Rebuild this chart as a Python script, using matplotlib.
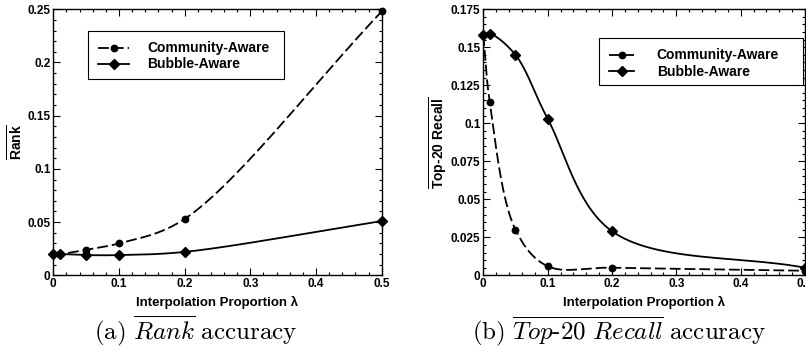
import numpy as np
import matplotlib
matplotlib.use("Agg")
import matplotlib.pyplot as plt
from matplotlib.patches import Rectangle
from matplotlib.ticker import MultipleLocator, FuncFormatter

plt.rcParams['font.family'] = ['Liberation Sans', 'DejaVu Sans']
plt.rcParams['font.weight'] = 'bold'
plt.rcParams['mathtext.fontset'] = 'custom'
plt.rcParams['mathtext.rm'] = 'Liberation Sans:bold'
plt.rcParams['mathtext.bf'] = 'Liberation Sans:bold'
plt.rcParams['mathtext.it'] = 'Liberation Sans:bold'

# data
lam = [0, 0.01, 0.05, 0.1, 0.2, 0.5]
rank_community = [0.020, 0.020, 0.024, 0.030, 0.053, 0.248]
rank_bubble = [0.020, 0.020, 0.019, 0.019, 0.022, 0.051]
recall_community = [0.158, 0.114, 0.030, 0.006, 0.005, 0.003]
recall_bubble = [0.158, 0.159, 0.145, 0.103, 0.029, 0.005]
series_labels = ['Community-Aware', 'Bubble-Aware']


# centripetal catmull-rom, only used to draw the smooth line through the points
def smooth(x, y, sx, sy, n=60):
	P = np.column_stack([np.asarray(x, float) * sx, np.asarray(y, float) * sy])
	P = np.vstack([2 * P[0] - P[1], P, 2 * P[-1] - P[-2]])
	out = []
	for i in range(len(P) - 3):
		p0, p1, p2, p3 = P[i], P[i + 1], P[i + 2], P[i + 3]
		t0 = 0.0
		t1 = t0 + np.linalg.norm(p1 - p0) ** 0.5
		t2 = t1 + np.linalg.norm(p2 - p1) ** 0.5
		t3 = t2 + np.linalg.norm(p3 - p2) ** 0.5
		t = np.linspace(t1, t2, n)[:, None]
		a1 = (t1 - t) / (t1 - t0) * p0 + (t - t0) / (t1 - t0) * p1
		a2 = (t2 - t) / (t2 - t1) * p1 + (t - t1) / (t2 - t1) * p2
		a3 = (t3 - t) / (t3 - t2) * p2 + (t - t2) / (t3 - t2) * p3
		b1 = (t2 - t) / (t2 - t0) * a1 + (t - t0) / (t2 - t0) * a2
		b2 = (t3 - t) / (t3 - t1) * a2 + (t - t1) / (t3 - t1) * a3
		out.append((t2 - t) / (t2 - t1) * b1 + (t - t1) / (t2 - t1) * b2)
	C = np.vstack(out)
	return C[:, 0] / sx, C[:, 1] / sy


def draw(ax, ycom, ybub, ymax, ymajor, yminor, wpx, hpx):
	dash = (6, 2.2)
	lw = 1.3
	sx, sy = wpx / 0.5, hpx / ymax
	xs, ys = smooth(lam, ycom, sx, sy)
	ax.plot(xs, ys, color='black', lw=lw, dashes=dash)
	xs, ys = smooth(lam, ybub, sx, sy)
	ax.plot(xs, ys, color='black', lw=lw)
	ax.plot(lam, ycom, 'o', color='black', ms=4.6, clip_on=False)
	ax.plot(lam, ybub, 'D', color='black', ms=4.8, clip_on=False)
	ax.set_xlim(0, 0.5)
	ax.set_ylim(0, ymax)
	ax.xaxis.set_major_locator(MultipleLocator(0.1))
	ax.xaxis.set_minor_locator(MultipleLocator(0.02))
	ax.yaxis.set_major_locator(MultipleLocator(ymajor))
	ax.yaxis.set_minor_locator(MultipleLocator(yminor))
	fmt = FuncFormatter(lambda v, p: '%g' % round(v, 4))
	ax.xaxis.set_major_formatter(fmt)
	ax.yaxis.set_major_formatter(fmt)
	ax.tick_params(which='both', direction='in', top=True, right=True, labelsize=8.5, width=0.8)
	ax.tick_params(which='major', length=5, pad=2)
	ax.tick_params(which='minor', length=2.5)
	for s in ax.spines.values():
		s.set_linewidth(1.0)
	ax.set_xlabel('Interpolation Proportion λ', fontsize=9.5, fontweight='bold', labelpad=4)
	# legend proxies
	h1, = ax.plot([], [], color='black', lw=lw, dashes=dash, marker='o', ms=4.6)
	h2, = ax.plot([], [], color='black', lw=lw, marker='D', ms=4.8)
	return [h1, h2]


# legend entries without frame, the box is drawn separately at the reference size
def legend(ax, hs, box, hl, htp):
	x0, y0, x1, y1 = box
	ax.legend(hs, series_labels, loc='upper left', bbox_to_anchor=(x0 / 806, 1 - y0 / 352),
		bbox_transform=fig.transFigure, fontsize=10, handlelength=hl,
		handletextpad=htp, labelspacing=0.15, borderpad=0.75, frameon=False, borderaxespad=0)
	ax.add_patch(Rectangle((x0 / 806, 1 - y1 / 352), (x1 - x0) / 806, (y1 - y0) / 352,
		transform=fig.transFigure, facecolor='white', edgecolor='black', lw=0.8,
		zorder=4, clip_on=False))


fig = plt.figure(figsize=(8.06, 3.52), dpi=100)
ax1 = fig.add_axes([53.3 / 806, 1 - 275.3 / 352, 328.4 / 806, 266 / 352])
ax2 = fig.add_axes([483.3 / 806, 1 - 275.3 / 352, 321.7 / 806, 266 / 352])

hs = draw(ax1, rank_community, rank_bubble, 0.25, 0.05, 0.01, 328.4, 266)
ax1.set_ylabel(r'$\overline{\mathbf{Rank}}$', fontsize=10, labelpad=1)
legend(ax1, hs, (88, 31, 284, 79), 2.2, 1.3)

hs = draw(ax2, recall_community, recall_bubble, 0.175, 0.025, 0.005, 321.7, 266)
ax2.set_ylabel(r'$\overline{\mathbf{Top\text{-}20\ Recall}}$', fontsize=10, labelpad=1)
legend(ax2, hs, (599, 38, 803, 85), 1.8, 1.6)

# captions under the panels
fig.text(196 / 806, 1 - 331 / 352, r'$\mathrm{(a)}\ \overline{Rank}\ \mathrm{accuracy}$',
	ha='center', va='center', fontsize=18, math_fontfamily='cm')
fig.text(619 / 806, 1 - 331 / 352, r'$\mathrm{(b)}\ \overline{Top\text{-}20\ Recall}\ \mathrm{accuracy}$',
	ha='center', va='center', fontsize=18, math_fontfamily='cm')

fig.savefig('out.png', dpi=100)
